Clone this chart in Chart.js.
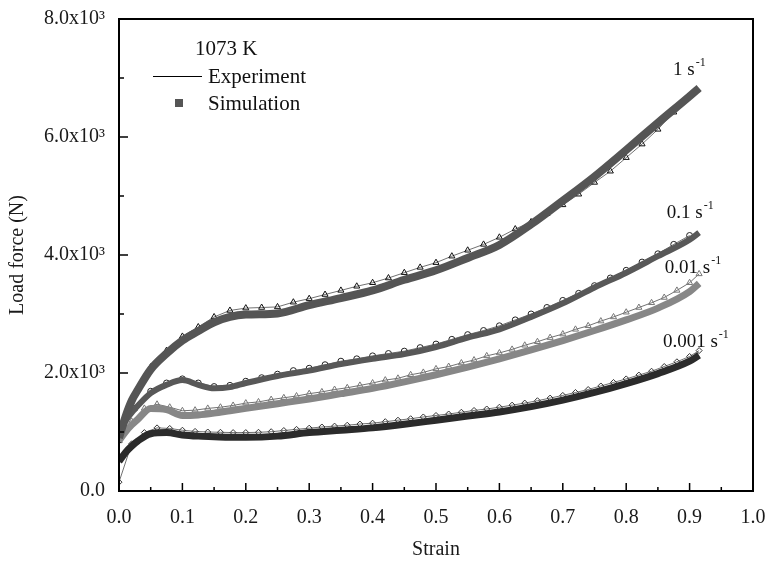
<!DOCTYPE html>
<html><head><meta charset="utf-8">
<script src="https://cdn.jsdelivr.net/npm/chart.js@4/dist/chart.umd.min.js"></script>
<style>html,body{margin:0;padding:0;background:#fff}#wrap{width:769px;height:562px}</style>
</head><body><div id="wrap"><canvas id="c" width="769" height="562"></canvas></div>
<script>
// ---- data ----
const simStrain = [0,0.01,0.02,0.03,0.05,0.075,0.1,0.125,0.15,0.175,0.2,0.25,0.3,0.35,0.4,0.45,0.5,0.55,0.6,0.65,0.7,0.75,0.8,0.85,0.9,0.915];
const sim1    = [900,1250,1530,1720,2060,2330,2550,2710,2860,2950,2990,3010,3150,3270,3400,3580,3740,3950,4170,4520,4920,5330,5780,6240,6690,6830];
const sim01   = [950,1180,1330,1450,1660,1800,1880,1800,1740,1760,1830,1950,2040,2150,2240,2320,2440,2600,2740,2950,3180,3450,3700,3980,4260,4380];
const sim001  = [850,1000,1120,1220,1400,1380,1280,1290,1320,1360,1400,1480,1560,1650,1740,1850,1970,2100,2240,2390,2550,2720,2900,3100,3380,3520];
const sim0001 = [500,650,760,850,970,990,950,930,920,910,910,930,990,1030,1070,1130,1200,1270,1340,1430,1540,1670,1820,1990,2200,2300];

const expStrainA = [0,0.025,0.05,0.075,0.1,0.125,0.15,0.175,0.2,0.225,0.25,0.275,0.3,0.325,0.35,0.375,0.4,0.425,0.45,0.475,0.5,0.525,0.55,0.575,0.6,0.625,0.65,0.675,0.7,0.725,0.75,0.775,0.8,0.825,0.85,0.875,0.9];
const exp1  = [850,1650,2100,2380,2620,2780,2950,3060,3100,3110,3120,3200,3260,3330,3400,3470,3530,3610,3700,3790,3870,3980,4080,4180,4300,4440,4560,4700,4850,5030,5230,5420,5650,5880,6130,6420,6700];
const exp01 = [950,1400,1690,1830,1900,1830,1770,1790,1860,1920,1980,2040,2080,2140,2200,2240,2290,2330,2370,2430,2490,2570,2650,2720,2800,2900,3000,3110,3230,3350,3480,3610,3740,3880,4020,4180,4330];

const expStrainB = [0,0.02,0.04,0.06,0.08,0.1,0.12,0.14,0.16,0.18,0.2,0.22,0.24,0.26,0.28,0.3,0.32,0.34,0.36,0.38,0.4,0.42,0.44,0.46,0.48,0.5,0.52,0.54,0.56,0.58,0.6,0.62,0.64,0.66,0.68,0.7,0.72,0.74,0.76,0.78,0.8,0.82,0.84,0.86,0.88,0.9,0.915];
const exp001  = [900,1180,1400,1470,1420,1360,1370,1400,1420,1450,1490,1510,1550,1580,1610,1650,1680,1720,1750,1790,1830,1880,1910,1970,2010,2070,2110,2170,2220,2290,2340,2400,2470,2530,2600,2660,2740,2800,2880,2950,3030,3110,3190,3280,3400,3530,3680];
const exp0001 = [150,800,990,1070,1060,1030,1010,1000,995,990,990,995,1005,1025,1045,1065,1085,1100,1115,1135,1150,1175,1200,1225,1255,1280,1305,1335,1365,1390,1420,1455,1490,1530,1575,1620,1670,1720,1780,1840,1900,1965,2030,2110,2190,2280,2380];

const xTicksMajor = [0,0.1,0.2,0.3,0.4,0.5,0.6,0.7,0.8,0.9,1.0];
const xTicksMinor = [0.05,0.15,0.25,0.35,0.45,0.55,0.65,0.75,0.85,0.95];
const yTicksMajor = [0,2000,4000,6000,8000];
const yTicksMinor = [1000,3000,5000,7000];

const rateLabels = ['1 s', '0.1 s', '0.01 s', '0.001 s'];
const rateSup = '-1';
// label anchor (data units)
const rateLabelX = [0.874, 0.864, 0.861, 0.858];
const rateLabelY = [7050, 4627, 3695, 2441];

const pts = (xs, ys) => xs.map((x, i) => ({x: x, y: ys[i]}));
const serif = "'Liberation Serif','Times New Roman',serif";

const simStyle = (c, w) => ({borderColor: c, backgroundColor: c, borderWidth: w, pointRadius: 0, cubicInterpolationMode: 'monotone', fill: false, borderCapStyle: 'butt'});
const expStyle = (ps, pc, r) => ({borderColor: '#333', borderWidth: 0.7, pointStyle: ps, pointRadius: r, pointBorderColor: pc, pointBackgroundColor: 'rgba(255,255,255,0)', pointBorderWidth: 1, fill: false, tension: 0});

const overlay = {
  id: 'overlay',
  afterDraw(chart) {
    const {ctx, chartArea: a, scales: {x, y}} = chart;
    ctx.save();
    ctx.strokeStyle = '#000';
    ctx.lineWidth = 1.5;
    ctx.beginPath();
    xTicksMajor.forEach(v => { const p = x.getPixelForValue(v); ctx.moveTo(p, a.bottom); ctx.lineTo(p, a.bottom - 8); });
    xTicksMinor.forEach(v => { const p = x.getPixelForValue(v); ctx.moveTo(p, a.bottom); ctx.lineTo(p, a.bottom - 4); });
    yTicksMajor.forEach(v => { const p = y.getPixelForValue(v); ctx.moveTo(a.left, p); ctx.lineTo(a.left + 9, p); });
    yTicksMinor.forEach(v => { const p = y.getPixelForValue(v); ctx.moveTo(a.left, p); ctx.lineTo(a.left + 5, p); });
    ctx.stroke();
    ctx.lineWidth = 2;
    ctx.strokeRect(a.left, a.top, a.right - a.left, a.bottom - a.top);

    // legend
    ctx.fillStyle = '#111';
    ctx.textBaseline = 'alphabetic';
    ctx.textAlign = 'left';
    ctx.font = '21px ' + serif;
    ctx.fillText('1073 K', 195, 55);
    ctx.fillText('Experiment', 208, 83);
    ctx.fillText('Simulation', 208, 110);
    ctx.lineWidth = 1;
    ctx.beginPath(); ctx.moveTo(153, 76.5); ctx.lineTo(202, 76.5); ctx.stroke();
    ctx.fillStyle = '#555';
    ctx.fillRect(175, 99, 8, 8);

    // rate labels
    ctx.fillStyle = '#111';
    rateLabels.forEach((t, i) => {
      const px = x.getPixelForValue(rateLabelX[i]);
      const py = y.getPixelForValue(rateLabelY[i]);
      ctx.font = '19px ' + serif;
      ctx.fillText(t, px, py);
      const w = ctx.measureText(t).width;
      ctx.font = '12px ' + serif;
      ctx.fillText(rateSup, px + w + 1, py - 9);
    });
    ctx.restore();
  }
};

new Chart(document.getElementById('c'), {
  type: 'line',
  data: {
    datasets: [
      Object.assign({label: 'Sim 1', data: pts(simStrain, sim1)}, simStyle('#555555', 8)),
      Object.assign({label: 'Sim 0.1', data: pts(simStrain, sim01)}, simStyle('#585858', 6)),
      Object.assign({label: 'Sim 0.01', data: pts(simStrain, sim001)}, simStyle('#878787', 7)),
      Object.assign({label: 'Sim 0.001', data: pts(simStrain, sim0001)}, simStyle('#2b2b2b', 7)),
      Object.assign({label: 'Exp 1', data: pts(expStrainA, exp1)}, expStyle('triangle', '#111', 3.5)),
      Object.assign({label: 'Exp 0.1', data: pts(expStrainA, exp01)}, expStyle('circle', '#222', 3)),
      Object.assign({label: 'Exp 0.01', data: pts(expStrainB, exp001)}, expStyle('triangle', '#777', 3.5)),
      Object.assign({label: 'Exp 0.001', data: pts(expStrainB, exp0001)}, expStyle('rectRot', '#333', 3))
    ]
  },
  options: {
    responsive: false,
    animation: false,
    devicePixelRatio: 1,
    layout: {padding: {top: 19, right: 16, left: 0, bottom: 0}},
    plugins: {legend: {display: false}, tooltip: {enabled: false}},
    scales: {
      x: {
        type: 'linear', min: 0, max: 1,
        afterFit: s => { s.height = 71; s.paddingLeft = 0; s.paddingRight = 0; },
        afterBuildTicks: s => { s.ticks = xTicksMajor.map(v => ({value: v})); },
        ticks: {callback: v => v.toFixed(1), font: {family: serif, size: 20}, color: '#1a1a1a', padding: 15, maxRotation: 0},
        grid: {display: false, drawTicks: false},
        border: {display: true, color: '#000', width: 2},
        title: {display: true, text: 'Strain', font: {family: serif, size: 20}, color: '#1a1a1a', padding: {top: 8, bottom: 0}}
      },
      y: {
        type: 'linear', min: 0, max: 8000,
        afterFit: s => { s.width = 119; s.paddingTop = 0; s.paddingBottom = 0; },
        afterBuildTicks: s => { s.ticks = yTicksMajor.map(v => ({value: v})); },
        ticks: {callback: v => v === 0 ? '0.0' : (v / 1000).toFixed(1) + 'x10\u00B3', font: {family: serif, size: 20}, color: '#1a1a1a', padding: 14},
        grid: {display: false, drawTicks: false},
        border: {display: true, color: '#000', width: 2},
        title: {display: true, text: 'Load force (N)', font: {family: serif, size: 20}, color: '#1a1a1a', padding: {top: 6, bottom: 0}}
      }
    }
  },
  plugins: [overlay]
});
</script>
</body></html>
